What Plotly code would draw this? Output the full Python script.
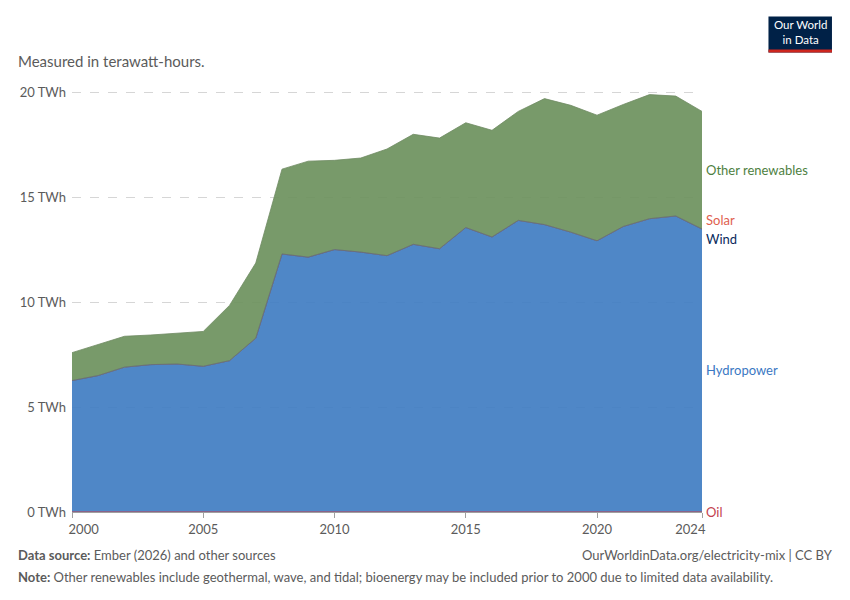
import plotly.graph_objects as go

# Electricity generation by source, TWh
years = list(range(2000, 2025))
hydropower = [6.26, 6.50, 6.90, 7.02, 7.05, 6.94, 7.21, 8.28, 12.29, 12.14,
              12.50, 12.38, 12.21, 12.75, 12.54, 13.55, 13.10, 13.89, 13.69, 13.33,
              12.92, 13.60, 13.97, 14.10, 13.48]
total = [7.59, 7.98, 8.37, 8.43, 8.52, 8.60, 9.84, 11.86, 16.33, 16.71,
         16.75, 16.86, 17.29, 17.99, 17.81, 18.54, 18.18, 19.08, 19.69, 19.37,
         18.90, 19.41, 19.88, 19.81, 19.08]
other_renewables = [round(t - h, 2) for t, h in zip(total, hydropower)]
wind = [0.0] * len(years)
solar = [0.0] * len(years)
oil = [0.0] * len(years)

x_ticks = [2000, 2005, 2010, 2015, 2020, 2024]
y_ticks = [0, 5, 10, 15, 20]
y_tick_text = ["0 TWh", "5 TWh", "10 TWh", "15 TWh", "20 TWh"]

grey = "#5b5b5b"
font = "Lato, 'Noto Sans', sans-serif"

# page body adds an 8px margin, so work in shifted pixel coords
OFF = 8
L, R, B = 67 - OFF, 702 - OFF, 511.7 - OFF
Y_TOP = 20.1
T = B - Y_TOP * 21.0


def px(x):
    return (x - OFF - L) / (R - L)


def py(y):
    return (B - (y - OFF)) / (B - T)


series = [
    ("Oil", oil, "rgba(0,0,0,0)", "#c3414e", 1.2),
    ("Hydropower", hydropower, "rgba(66,126,195,0.93)", "#6a6a82", 1),
    ("Wind", wind, "#00295b", "#6a6a82", 0.6),
    ("Solar", solar, "#e56e5a", "#6a6a82", 0.6),
    ("Other renewables", other_renewables, "rgba(110,146,95,0.93)", "#6f8a62", 0.8),
]

fig = go.Figure()
for name, vals, fill, line, w in series:
    fig.add_trace(go.Scatter(
        x=years, y=vals, name=name, mode="lines", stackgroup="one",
        fillcolor=fill, line=dict(color=line, width=w),
    ))

# x labels: first one left-aligned, last one right-aligned like OWID
pad = "&nbsp;" * 7
tick_text = [pad + "2000", "2005", "2010", "2015", "2020", "2024" + pad]

fig.update_xaxes(
    range=[2000, 2024], tickvals=x_ticks, ticktext=tick_text,
    showgrid=False, showline=True, linecolor="#a0a0a0", linewidth=1,
    ticks="outside", ticklen=5, tickcolor="#a0a0a0",
    tickfont=dict(size=13, color=grey, family=font),
)
fig.update_yaxes(
    range=[0, Y_TOP], tickvals=y_ticks, ticktext=y_tick_text,
    showgrid=True, gridcolor="#d6d6d6", griddash="dash", gridwidth=1,
    zeroline=False, showline=False, ticklabelstandoff=5,
    tickfont=dict(size=13, color=grey, family=font),
)

# end-of-line labels
last_h = hydropower[-1]
labels = [
    ("Other renewables", last_h + other_renewables[-1] / 2, 0, "#4e7f3f"),
    ("Solar", last_h, 9, "#e0604e"),
    ("Wind", last_h, -10, "#0a2a5c"),
    ("Hydropower", last_h / 2, 0, "#3b78c3"),
    ("Oil", 0, 0, "#c3414e"),
]
for text, yv, ys, col in labels:
    fig.add_annotation(
        x=2024, y=yv, xref="x", yref="y", text=text, showarrow=False,
        xanchor="left", xshift=2, yshift=ys,
        font=dict(size=13, color=col, family=font),
    )

# subtitle and footer
fig.add_annotation(x=px(11), y=py(61), xref="paper", yref="paper",
                   text="Measured in terawatt-hours.", showarrow=False,
                   xanchor="left", yanchor="middle",
                   font=dict(size=15, color=grey, family=font))
fig.add_annotation(x=px(11), y=py(555), xref="paper", yref="paper",
                   text="<b>Data source:</b> Ember (2026) and other sources",
                   showarrow=False, xanchor="left", yanchor="middle",
                   font=dict(size=13, color=grey, family=font))
fig.add_annotation(x=px(836), y=py(555), xref="paper", yref="paper",
                   text="OurWorldinData.org/electricity-mix | CC BY",
                   showarrow=False, xanchor="right", yanchor="middle",
                   font=dict(size=13, color=grey, family=font))
fig.add_annotation(x=px(11), y=py(577), xref="paper", yref="paper",
                   text="<b>Note:</b> Other renewables include geothermal, wave, and tidal; "
                        "bioenergy may be included prior to 2000 due to limited data availability.",
                   showarrow=False, xanchor="left", yanchor="middle",
                   font=dict(size=13, color=grey, family=font))

# OWID logo
fig.add_shape(type="rect", xref="paper", yref="paper",
              x0=px(769), x1=px(833), y0=py(52), y1=py(16),
              fillcolor="#002147", line_width=0, layer="above")
fig.add_shape(type="rect", xref="paper", yref="paper",
              x0=px(769), x1=px(833), y0=py(52), y1=py(49),
              fillcolor="#ce261e", line_width=0, layer="above")
fig.add_annotation(x=px(801), y=py(32), xref="paper", yref="paper",
                   text="Our World<br>in Data", showarrow=False,
                   xanchor="center", yanchor="middle",
                   font=dict(size=11.5, color="white", family=font))

fig.update_layout(
    width=850, height=600,
    margin=dict(l=L, r=850 - R, t=T, b=600 - B),
    paper_bgcolor="white", plot_bgcolor="white",
    showlegend=False,
    font=dict(family=font, color=grey),
)

fig.write_html("out.html")
